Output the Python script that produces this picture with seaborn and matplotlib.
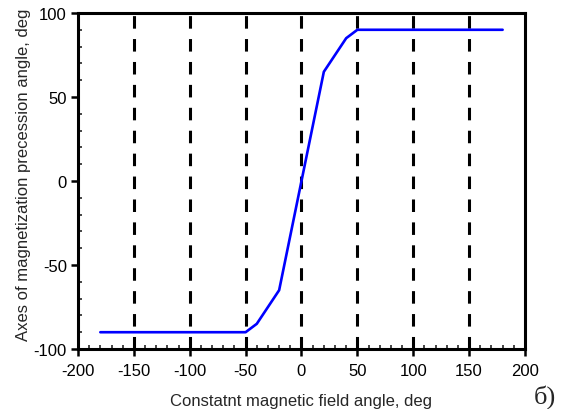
import matplotlib
matplotlib.use("Agg")
import matplotlib.pyplot as plt
from matplotlib.ticker import MultipleLocator
import seaborn as sns
import pandas as pd

# Field angle (deg) and resulting precession axis angle (deg)
field_angle = [-180, -50, -40, -20, 0, 20, 40, 50, 180]
precession_angle = [-90, -90, -85, -65, 0, 65, 85, 90, 90]

x_ticks = [-200, -150, -100, -50, 0, 50, 100, 150, 200]
y_ticks = [-100, -50, 0, 50, 100]

df = pd.DataFrame({"field": field_angle, "precession": precession_angle})

sns.set_style("white")
plt.rcParams["font.family"] = ["Liberation Sans", "DejaVu Sans"]
plt.rcParams["axes.unicode_minus"] = False

fig = plt.figure(figsize=(5.63, 4.10), dpi=100)
ax = fig.add_axes([0.1385, 0.1463, 0.7940, 0.8196])

sns.lineplot(data=df, x="field", y="precession", ax=ax, color="#0000ff",
             linewidth=1.9, sort=False, zorder=3)

ax.set_xlim(-200, 200)
ax.set_ylim(-100, 100)
ax.set_xticks(x_ticks)
ax.set_yticks(y_ticks)
ax.xaxis.set_minor_locator(MultipleLocator(10))
ax.yaxis.set_minor_locator(MultipleLocator(10))

# vertical dashed guides at the inner major ticks
for xv in x_ticks[1:-1]:
    ax.axvline(xv, color="black", linewidth=2.2, linestyle=(0, (4.1, 3.4)),
               zorder=2)

for side in ["left", "right", "top", "bottom"]:
    ax.spines[side].set_linewidth(2.2)
    ax.spines[side].set_color("black")

ax.tick_params(axis="both", which="major", direction="out", length=5,
               width=1.8, labelsize=12, colors="black",
               left=True, bottom=True)
ax.tick_params(axis="x", which="major", pad=5)
ax.tick_params(axis="y", which="major", pad=3)
ax.tick_params(axis="both", which="minor", direction="in", length=3,
               width=1.2, left=True, bottom=True)

ax.set_xlabel("Constatnt magnetic field angle, deg", fontsize=12, labelpad=11)
ax.set_ylabel("Axes of magnetization precession angle, deg", fontsize=12,
              labelpad=2)
ax.yaxis.label.set_y(0.52)

fig.text(0.948, 0.016, "б)", fontsize=19,
         family=["Liberation Serif", "DejaVu Serif"],
         ha="left", va="baseline")

fig.savefig("out.png", dpi=100)
